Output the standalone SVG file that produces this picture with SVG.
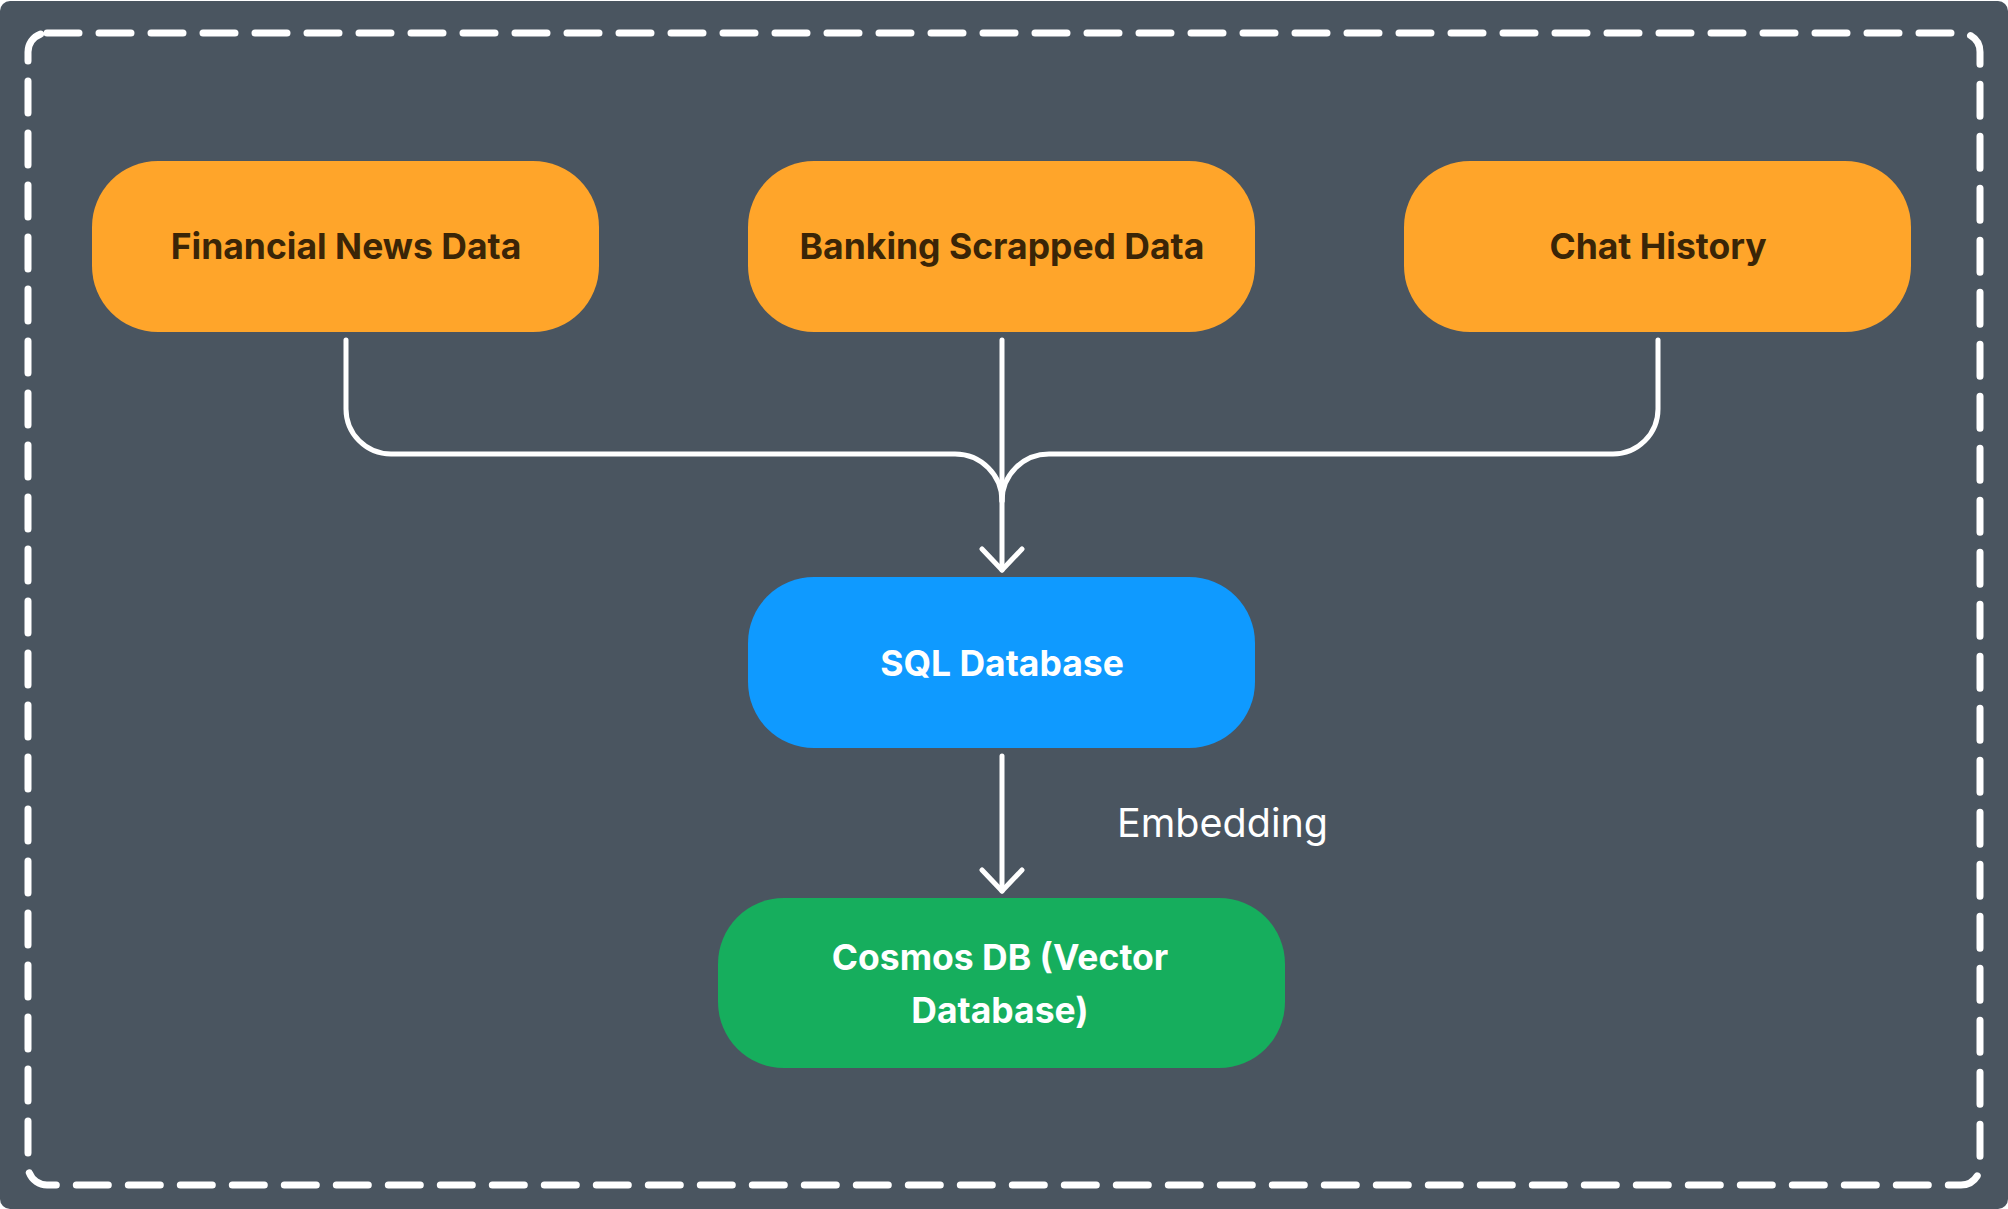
<svg xmlns="http://www.w3.org/2000/svg" width="2008" height="1209" viewBox="0 0 2008 1209">
  <style>
    .node-text { font-family: Inter, "Liberation Sans", sans-serif; font-weight: 700; font-size: 35.5px; text-anchor: middle; }
    .dark { fill: #3a2507; }
    .light { fill: #ffffff; }
    .conn { fill: none; stroke: #ffffff; stroke-width: 5; stroke-linecap: round; stroke-linejoin: round; }
    .label { font-family: Inter, "Liberation Sans", sans-serif; font-weight: 400; font-size: 39.5px; fill: #ffffff; }
  </style>
  <defs>
    <marker id="arrow" markerUnits="userSpaceOnUse" markerWidth="60" markerHeight="60" refX="0" refY="0" orient="auto" overflow="visible">
      <path d="M-21,-20 L0,0 L-21,20" fill="none" stroke="#ffffff" stroke-width="5" stroke-linecap="round" stroke-linejoin="round"/>
    </marker>
  </defs>
  <rect x="0" y="0" width="2008" height="1209" fill="#ffffff"/>
  <rect x="0" y="1" width="2008" height="1208" rx="10" fill="#4a5560"/>
  <rect id="boundary" x="28" y="33" width="1952" height="1152" rx="19" fill="none" stroke="#ffffff" stroke-width="7" stroke-linecap="round" stroke-dasharray="32 20"/>

  <g id="financial-news">
    <rect x="92" y="161" width="507" height="171" rx="66" fill="#ffa52a"/>
    <text class="node-text dark" x="346" y="259">Financial News Data</text>
  </g>
  <g id="banking-scrapped">
    <rect x="748" y="161" width="507" height="171" rx="66" fill="#ffa52a"/>
    <text class="node-text dark" x="1002" y="259">Banking Scrapped Data</text>
  </g>
  <g id="chat-history">
    <rect x="1404" y="161" width="507" height="171" rx="66" fill="#ffa52a"/>
    <text class="node-text dark" x="1658" y="259">Chat History</text>
  </g>
  <g id="sql-database">
    <rect x="748" y="577" width="507" height="171" rx="66" fill="#0f9aff"/>
    <text class="node-text light" x="1002" y="676">SQL Database</text>
  </g>
  <g id="cosmos-db">
    <rect x="718" y="898" width="567" height="170" rx="66" fill="#16ae5d"/>
    <text class="node-text light" x="1000" y="970">Cosmos DB (Vector</text>
    <text class="node-text light" x="1000" y="1023">Database)</text>
  </g>

  <g id="connectors">
    <path class="conn" d="M346,340 V409 A45,45 0 0 0 391,454 H955 A47,47 0 0 1 1002,501"/>
    <path class="conn" d="M1658,340 V409 A45,45 0 0 1 1613,454 H1049 A47,47 0 0 0 1002,501"/>
    <path class="conn" d="M1002,340 V570" marker-end="url(#arrow)"/>
    <path class="conn" d="M1002,756 V891" marker-end="url(#arrow)"/>
    <text class="label" x="1117" y="837">Embedding</text>
  </g>
</svg>
